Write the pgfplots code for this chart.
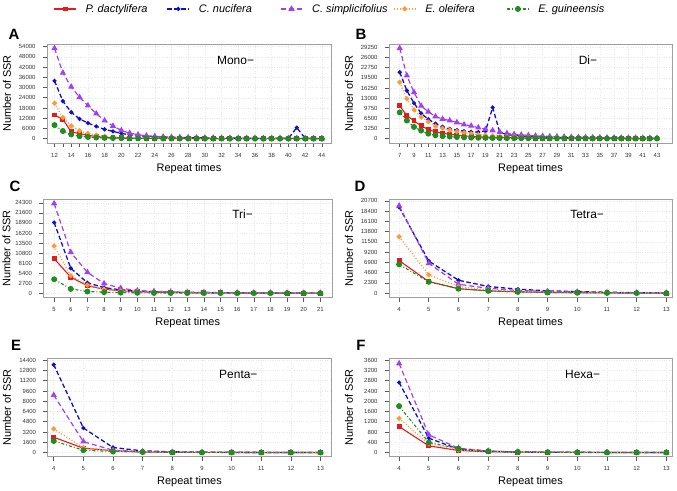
\documentclass[border=0pt]{standalone}
\usepackage{pgfplots}
\usepackage{pgfplotstable}
\pgfplotsset{compat=1.18}
\usepackage{fontspec}
\setmainfont{Liberation Sans}

\definecolor{cR}{HTML}{E41A1C}
\definecolor{cB}{HTML}{1010C8}
\definecolor{cP}{HTML}{A040F0}
\definecolor{cO}{HTML}{FF9933}
\definecolor{cG}{HTML}{228B22}

\pgfplotstableread{
x pd cn cs eo eg
12 13900 33900 53000 20800 8000
13 11400 22000 38600 12400 4500
14 4000 15500 30400 7500 2500
15 3000 11600 24300 4600 1500
16 2000 9200 19400 3100 1000
17 1300 7250 14700 2100 700
18 900 5500 10600 1400 500
19 650 4300 7450 1000 380
20 500 3100 4900 750 300
21 400 2350 3300 580 240
22 320 1800 2350 460 200
23 260 1400 1760 380 170
24 220 1150 1400 320 150
25 190 950 1150 270 130
26 165 800 950 230 115
27 145 700 820 200 100
28 130 620 720 180 90
29 115 560 640 160 80
30 105 500 580 140 72
31 95 450 530 125 65
32 88 410 480 112 60
33 80 370 440 100 55
34 74 340 400 92 50
35 68 310 370 85 46
36 63 290 340 78 42
37 58 270 310 72 39
38 54 250 290 67 36
39 50 230 270 62 33
40 47 220 250 58 31
41 44 6500 230 54 29
42 41 300 210 50 27
43 38 180 190 47 25
44 35 160 170 44 23
}\dataA

\pgfplotstableread{
x pd cn cs eo eg
7 10500 21300 29000 18100 8400
8 7400 15400 20200 12800 5800
9 5700 11400 14850 9250 3750
10 4100 8100 10500 6900 2580
11 2900 6200 8600 5400 1600
12 2150 4800 7100 4000 1070
13 1700 3800 6300 3300 800
14 1400 3100 5800 2700 650
15 1100 2700 5200 2300 500
16 900 2400 4500 1900 400
17 720 2200 4100 1600 330
18 600 2100 3550 1300 280
19 500 2400 3000 1100 240
20 420 10000 2600 900 200
21 360 2000 2100 760 175
22 310 1300 1700 650 155
23 270 1000 1400 560 140
24 230 800 1200 480 125
25 200 700 1050 420 112
26 180 600 900 370 100
27 160 520 800 330 92
28 145 460 700 290 85
29 130 410 620 260 78
30 118 370 560 230 72
31 108 330 500 210 66
32 99 300 450 190 61
33 91 270 400 170 56
34 84 250 370 150 52
35 77 230 340 140 48
36 71 210 310 130 45
37 66 190 280 120 42
38 61 170 260 110 39
39 57 160 240 100 36
40 53 150 220 90 34
41 50 140 200 80 32
42 47 130 180 70 30
43 44 120 160 60 28
}\dataB

\pgfplotstableread{
x pd cn cs eo eg
5 9300 19000 24100 12700 3750
6 4300 6700 11000 4700 1150
7 2000 2800 5600 2200 450
8 1070 1500 2600 1100 270
9 630 900 1350 600 150
10 400 600 700 380 100
11 270 400 500 260 70
12 190 300 350 190 50
13 140 220 250 140 40
14 100 170 190 100 30
15 80 130 150 80 25
16 60 100 120 60 20
17 50 80 100 50 16
18 40 70 80 40 13
19 32 60 70 30 11
20 26 50 60 25 9
21 22 40 50 20 8
}\dataC

\pgfplotstableread{
x pd cn cs eo eg
4 7300 19300 19600 12650 6450
5 2600 7200 6700 4100 2550
6 1000 2900 2000 1500 1000
7 520 1500 1100 740 520
8 300 900 600 370 280
9 170 520 370 200 150
10 100 370 280 110 90
11 60 200 150 60 50
12 35 120 90 35 30
13 20 60 50 20 15
}\dataD

\pgfplotstableread{
x pd cn cs eo eg
4 2380 13700 8950 3680 1800
5 670 3830 1700 780 360
6 300 780 360 260 150
7 80 260 150 80 70
8 35 110 60 35 30
9 20 60 35 20 15
10 12 35 20 12 10
11 8 20 12 8 6
12 5 12 8 5 4
13 3 8 5 3 2
}\dataE

\pgfplotstableread{
x pd cn cs eo eg
4 1010 2730 3470 1330 1810
5 260 560 690 340 390
6 80 130 170 100 155
7 30 50 60 40 50
8 15 20 25 18 25
9 8 10 12 10 12
10 5 6 8 6 8
11 3 4 5 4 5
12 2 3 3 3 3
13 1 2 2 2 2
}\dataF

\pgfplotsset{
  panel/.style={
    scale only axis,
    axis line style={draw=gray!75, line width=1bp},
    tick align=outside, tick pos=left,
    major tick length=4bp, minor tick length=4bp,
    tick style={black!65, line width=0.6bp},
    grid=major, major grid style={gray!18, dotted, line width=0.5bp},
    tick label style={font=\fontsize{6}{7}\selectfont, text=black!80},
    yticklabel style={xshift=-4bp},
    xticklabel style={yshift=-2.5bp},
    xlabel={Repeat times}, ylabel={Number of SSR},
    label style={font=\fontsize{11}{13}\selectfont},
    xlabel style={at={(axis description cs:0.5,-0.259)}, anchor=center},
    scaled y ticks=false, scaled x ticks=false,
    /pgf/number format/assume math mode=true,
    /pgf/number format/set thousands separator={},
    /pgf/number format/fixed,
    legend image code/.code={\draw[mark repeat=2,mark phase=2] plot coordinates {(0bp,0bp) (11bp,0bp) (22bp,0bp)};},
  },
  sR/.style={color=cR, solid, line width=1.1bp, mark=square*, mark size=1.9bp, mark options={solid}},
  sB/.style={color=cB, dash pattern=on 4.5bp off 2.5bp, line width=1.3bp, mark=*, mark size=1.4bp, mark options={solid}},
  sP/.style={color=cP, dash pattern=on 5bp off 3bp, line width=1.2bp, mark=triangle*, mark size=2.5bp, mark options={solid}},
  sO/.style={color=cO, dash pattern=on 1bp off 2bp, line width=1.3bp, mark=*, mark size=1.8bp, mark options={solid}},
  sG/.style={color=cG, dash pattern=on 3bp off 2bp on 1bp off 2bp, line width=1.1bp, mark=*, mark size=2.4bp, mark options={solid}},
}

\newcommand{\fivecurves}[1]{%
  \addplot[sR] table[x=x,y=pd]{#1};
  \addplot[sB] table[x=x,y=cn]{#1};
  \addplot[sP] table[x=x,y=cs]{#1};
  \addplot[sO] table[x=x,y=eo]{#1};
  \addplot[sG] table[x=x,y=eg]{#1};
}

\begin{document}
\begin{tikzpicture}
\useasboundingbox (0,0) rectangle (677bp,-491bp);

% A
\begin{axis}[panel, at={(47bp,-44bp)}, anchor=north west, width=284bp, height=99bp,
  xmin=11.1, xmax=45.1, ymin=-2500, ymax=55500,
  xtick={12,14,...,44}, minor xtick={13,15,...,43},
  ytick={0,6000,12000,18000,24000,30000,36000,42000,48000,54000},
  ylabel style={at={(axis description cs:-0.141,0.5)}, anchor=center},
  legend columns=5,
  legend style={at={(axis description cs:1.0106,1.354)}, anchor=center, draw=none, fill=none,
    font=\fontsize{11}{13}\selectfont\itshape,
    /tikz/every odd column/.append style={column sep=7bp},
    /tikz/every even column/.append style={column sep=5bp}},
]
\addplot[sR] table[x=x,y=pd]{\dataA}; \addlegendentry{\makebox[74bp][l]{P. dactylifera}}
\addplot[sB] table[x=x,y=cn]{\dataA}; \addlegendentry{\makebox[74bp][l]{C. nucifera}}
\addplot[sP] table[x=x,y=cs]{\dataA}; \addlegendentry{\makebox[74bp][l]{C. simplicifolius}}
\addplot[sO] table[x=x,y=eo]{\dataA}; \addlegendentry{\makebox[74bp][l]{E. oleifera}}
\addplot[sG] table[x=x,y=eg]{\dataA}; \addlegendentry{\makebox[74bp][l]{E. guineensis}}
\node[font=\fontsize{12}{14}\selectfont] at (axis description cs:0.664,0.838) {Mono−};
\end{axis}

% B
\begin{axis}[panel, at={(389bp,-44bp)}, anchor=north west, width=283bp, height=99bp,
  xmin=5.5, xmax=45.1, ymin=-1400, ymax=30350,
  xtick={7,9,...,43}, minor xtick={8,10,...,42},
  ytick={0,3250,6500,9750,13000,16250,19500,22750,26000,29250},
  ylabel style={at={(axis description cs:-0.1413,0.5)}, anchor=center},
]
\fivecurves{\dataB}
\node[font=\fontsize{12}{14}\selectfont] at (axis description cs:0.703,0.838) {Di−};
\end{axis}

% C
\begin{axis}[panel, at={(43.5bp,-199.5bp)}, anchor=north west, width=288.5bp, height=98bp,
  xmin=4.36, xmax=21.7, ymin=-1160, ymax=25200,
  xtick={5,6,...,21},
  ytick={0,2700,5400,8100,10800,13500,16200,18900,21600,24300},
  ylabel style={at={(axis description cs:-0.128,0.5)}, anchor=center},
]
\fivecurves{\dataC}
\node[font=\fontsize{12}{14}\selectfont] at (axis description cs:0.69,0.847) {Tri−};
\end{axis}

% D
\begin{axis}[panel, at={(389bp,-199.5bp)}, anchor=north west, width=283bp, height=98bp,
  xmin=3.66, xmax=13.19, ymin=-970, ymax=21000,
  xtick={4,5,...,13},
  ytick={0,2300,4600,6900,9200,11500,13800,16100,18400,20700},
  ylabel style={at={(axis description cs:-0.1413,0.5)}, anchor=center},
]
\fivecurves{\dataD}
\node[font=\fontsize{12}{14}\selectfont] at (axis description cs:0.70,0.847) {Tetra−};
\end{axis}

% E
\begin{axis}[panel, at={(47.5bp,-358.5bp)}, anchor=north west, width=284bp, height=98bp,
  xmin=3.79, xmax=13.37, ymin=-620, ymax=14660,
  xtick={4,5,...,13},
  ytick={0,1600,3200,4800,6400,8000,9600,11200,12800,14400},
  ylabel style={at={(axis description cs:-0.1426,0.5)}, anchor=center},
]
\fivecurves{\dataE}
\node[font=\fontsize{12}{14}\selectfont] at (axis description cs:0.672,0.842) {Penta−};
\end{axis}

% F
\begin{axis}[panel, at={(389bp,-358.5bp)}, anchor=north west, width=283bp, height=98bp,
  xmin=3.66, xmax=13.19, ymin=-155, ymax=3665,
  xtick={4,5,...,13},
  ytick={0,400,800,1200,1600,2000,2400,2800,3200,3600},
  ylabel style={at={(axis description cs:-0.1413,0.5)}, anchor=center},
]
\fivecurves{\dataF}
\node[font=\fontsize{12}{14}\selectfont] at (axis description cs:0.684,0.842) {Hexa−};
\end{axis}

\begin{scope}[every node/.style={font=\bfseries\fontsize{15}{15}\selectfont}]
\node at (14bp,-34bp) {A};
\node at (361bp,-34bp) {B};
\node at (15bp,-186bp) {C};
\node at (360bp,-186bp) {D};
\node at (16bp,-345bp) {E};
\node at (361bp,-345bp) {F};
\end{scope}
\end{tikzpicture}
\end{document}
